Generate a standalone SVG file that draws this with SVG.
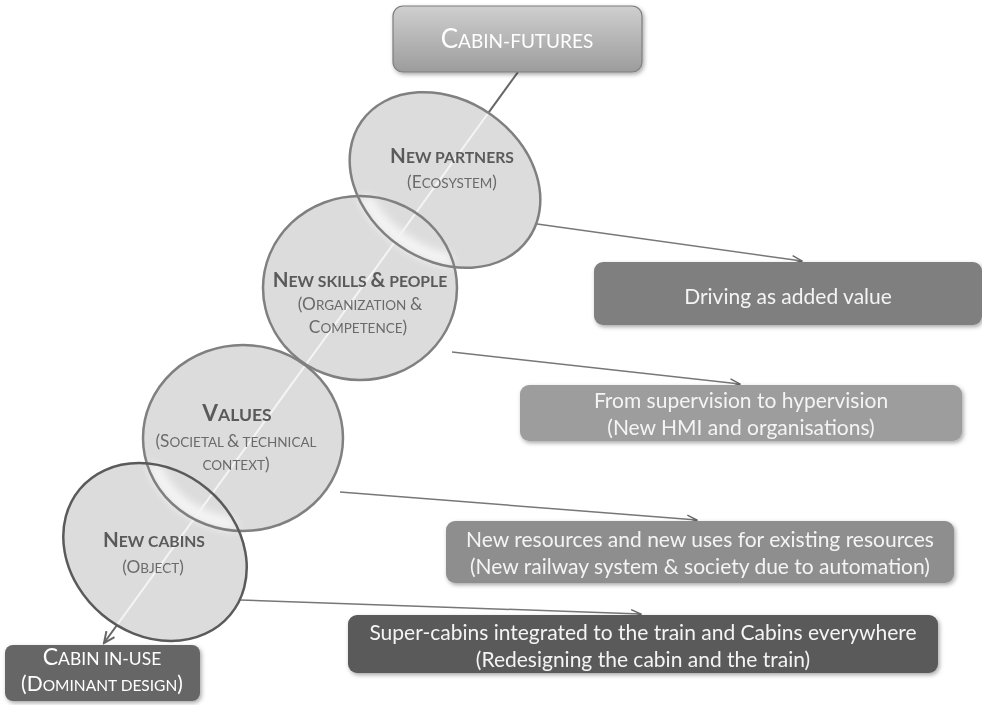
<svg xmlns="http://www.w3.org/2000/svg" width="982" height="705" viewBox="0 0 982 705">
<style>
.c{fill:#dcdcdc}
.cs{fill:none;stroke:#808080;stroke-width:2.5}
.hl{fill:none;stroke:#ffffff;stroke-width:26;opacity:.75}
.tb{font-family:Lato,"Liberation Sans",sans-serif;font-weight:bold;fill:#5a5a5a;text-anchor:middle}
.tr{font-family:Lato,"Liberation Sans",sans-serif;fill:#6a6a6a;text-anchor:middle}
.bx{font-family:Lato,"Liberation Sans",sans-serif;fill:#f4f4f4;text-anchor:middle;font-size:21px}
.conn{stroke:#777;stroke-width:1.5;fill:none;marker-end:url(#ah)}
</style>
<defs>
<linearGradient id="gTop" x1="0" y1="0" x2="0" y2="1">
<stop offset="0" stop-color="#cfcfcf"/><stop offset="1" stop-color="#9c9c9c"/>
</linearGradient>
<filter id="sh" x="-10%" y="-10%" width="130%" height="140%">
<feDropShadow dx="1.5" dy="2" stdDeviation="2" flood-color="#000" flood-opacity=".35"/>
</filter>
<filter id="bl"><feGaussianBlur stdDeviation="5"/></filter>
<marker id="ah" viewBox="0 0 12 10" refX="11" refY="5" markerWidth="12" markerHeight="10" markerUnits="userSpaceOnUse" orient="auto">
<path d="M1,1 L11,5 L1,9" fill="none" stroke="#666" stroke-width="1.4"/>
</marker>
<marker id="ah2" viewBox="0 0 14 12" refX="12" refY="6" markerWidth="14" markerHeight="12" markerUnits="userSpaceOnUse" orient="auto">
<path d="M1,1 L12,6 L1,11" fill="none" stroke="#666" stroke-width="2"/>
</marker>
<clipPath id="c1"><ellipse cx="445" cy="180" rx="102" ry="80" transform="rotate(35 445 180)"/></clipPath>
<clipPath id="c2"><ellipse cx="360" cy="288" rx="97" ry="92"/></clipPath>
<clipPath id="c3"><ellipse cx="243" cy="438" rx="100" ry="93"/></clipPath>
<clipPath id="c4"><ellipse cx="155" cy="552" rx="98" ry="82" transform="rotate(40 155 552)"/></clipPath>
<clipPath id="cAll">
<ellipse cx="445" cy="180" rx="102" ry="80" transform="rotate(35 445 180)"/>
<ellipse cx="360" cy="288" rx="97" ry="92"/>
<ellipse cx="243" cy="438" rx="100" ry="93"/>
<ellipse cx="155" cy="552" rx="98" ry="82" transform="rotate(40 155 552)"/>
</clipPath>
</defs>

<g id="connectors">
<line x1="518" y1="72" x2="104" y2="643" stroke="#666" stroke-width="2" marker-end="url(#ah2)"/>
<line class="conn" x1="530" y1="223" x2="802" y2="261"/>
<line class="conn" x1="452" y1="352" x2="740" y2="384"/>
<line class="conn" x1="340" y1="492" x2="697" y2="520"/>
<line class="conn" x1="240" y1="600" x2="641" y2="614"/>
</g>

<g id="circles-fill">
<ellipse class="c" cx="445" cy="180" rx="102" ry="80" transform="rotate(35 445 180)"/>
<ellipse class="c" cx="360" cy="288" rx="97" ry="92"/>
<ellipse class="c" cx="243" cy="438" rx="100" ry="93"/>
<ellipse class="c" cx="155" cy="552" rx="98" ry="82" transform="rotate(40 155 552)"/>
</g>

<g id="highlights" filter="url(#bl)">
<g clip-path="url(#c2)"><g clip-path="url(#c1)"><ellipse class="hl" cx="445" cy="180" rx="102" ry="80" transform="rotate(35 445 180)"/></g></g>
<g clip-path="url(#c3)"><g clip-path="url(#c2)"><ellipse class="hl" cx="360" cy="288" rx="97" ry="92"/></g></g>
<g clip-path="url(#c4)"><g clip-path="url(#c3)"><ellipse class="hl" cx="243" cy="438" rx="100" ry="93"/></g></g>
</g>

<g clip-path="url(#cAll)">
<line x1="518" y1="72" x2="104" y2="643" stroke="#f4f4f4" stroke-width="2"/>
</g>

<g id="n-partners">
<ellipse class="cs" cx="445" cy="180" rx="102" ry="80" transform="rotate(35 445 180)"/>
<text class="tb" x="452" y="163"><tspan font-size="20.5">N</tspan><tspan font-size="15.7">EW PARTNERS</tspan></text>
<text class="tr" x="452" y="188"><tspan font-size="17.3">(E</tspan><tspan font-size="13.5">COSYSTEM</tspan><tspan font-size="17.3">)</tspan></text>
</g>
<g id="n-skills">
<ellipse class="cs" cx="360" cy="288" rx="97" ry="92"/>
<text class="tb" x="360" y="287"><tspan font-size="20.5">N</tspan><tspan font-size="15.7">EW SKILLS </tspan><tspan font-size="20.5">&amp;</tspan><tspan font-size="15.7"> PEOPLE</tspan></text>
<text class="tr" x="360" y="310"><tspan font-size="17.3">(O</tspan><tspan font-size="13.5">RGANIZATION </tspan><tspan font-size="17.3">&amp;</tspan></text>
<text class="tr" x="358" y="333"><tspan font-size="17.3">C</tspan><tspan font-size="13.5">OMPETENCE</tspan><tspan font-size="17.3">)</tspan></text>
</g>
<g id="n-values">
<ellipse class="cs" cx="243" cy="438" rx="100" ry="93"/>
<text class="tb" x="237" y="421"><tspan font-size="22.7">V</tspan><tspan font-size="17.5">ALUES</tspan></text>
<text class="tr" x="236" y="447"><tspan font-size="17.3">(S</tspan><tspan font-size="13.5">OCIETAL </tspan><tspan font-size="17.3">&amp;</tspan><tspan font-size="13.5"> TECHNICAL</tspan></text>
<text class="tr" x="236" y="470"><tspan font-size="13.5">CONTEXT</tspan><tspan font-size="17.3">)</tspan></text>
</g>
<g id="n-cabins">
<ellipse class="cs" cx="155" cy="552" rx="98" ry="82" transform="rotate(40 155 552)" style="stroke:#5a5a5a"/>
<text class="tb" x="154" y="547"><tspan font-size="20.5">N</tspan><tspan font-size="15.7">EW CABINS</tspan></text>
<text class="tr" x="153" y="573"><tspan font-size="17.3">(O</tspan><tspan font-size="13.5">BJECT</tspan><tspan font-size="17.3">)</tspan></text>
</g>

<g id="n-top">
<rect x="393" y="6" width="249" height="66" rx="10" fill="url(#gTop)" stroke="#7d7d7d" stroke-width="1.2" filter="url(#sh)"/>
<text x="517" y="48" font-family="Lato,'Liberation Sans',sans-serif" fill="#ffffff" text-anchor="middle"><tspan font-size="26">C</tspan><tspan font-size="19">ABIN-FUTURES</tspan></text>
</g>

<g id="n-driving">
<rect x="594" y="262" width="388" height="63" rx="9" fill="#7f7f7f" filter="url(#sh)"/>
<text class="bx" x="788" y="304">Driving as added value</text>
</g>
<g id="n-supervision">
<rect x="520" y="385" width="442" height="56" rx="9" fill="#9d9d9d" filter="url(#sh)"/>
<text class="bx" x="741" y="408">From supervision to hypervision</text>
<text class="bx" x="741" y="435">(New HMI and organisations)</text>
</g>
<g id="n-resources">
<rect x="446" y="521" width="508" height="62" rx="9" fill="#8e8e8e" filter="url(#sh)"/>
<text class="bx" x="700" y="547">New resources and new uses for existing resources</text>
<text class="bx" x="700" y="574">(New railway system &amp; society due to automation)</text>
</g>
<g id="n-supercabins">
<rect x="348" y="615" width="590" height="58" rx="9" fill="#5a5a5a" filter="url(#sh)"/>
<text class="bx" x="643" y="640">Super-cabins integrated to the train and Cabins everywhere</text>
<text class="bx" x="643" y="667">(Redesigning the cabin and the train)</text>
</g>
<g id="n-inuse">
<rect x="5" y="645" width="195" height="56" rx="8" fill="#666666" filter="url(#sh)"/>
<text x="102" y="665" font-family="Lato,'Liberation Sans',sans-serif" fill="#ffffff" text-anchor="middle"><tspan font-size="23">C</tspan><tspan font-size="17.5">ABIN IN-USE</tspan></text>
<text x="102" y="691" font-family="Lato,'Liberation Sans',sans-serif" fill="#ffffff" text-anchor="middle"><tspan font-size="21">(D</tspan><tspan font-size="15.5">OMINANT DESIGN</tspan><tspan font-size="21">)</tspan></text>
</g>
</svg>
